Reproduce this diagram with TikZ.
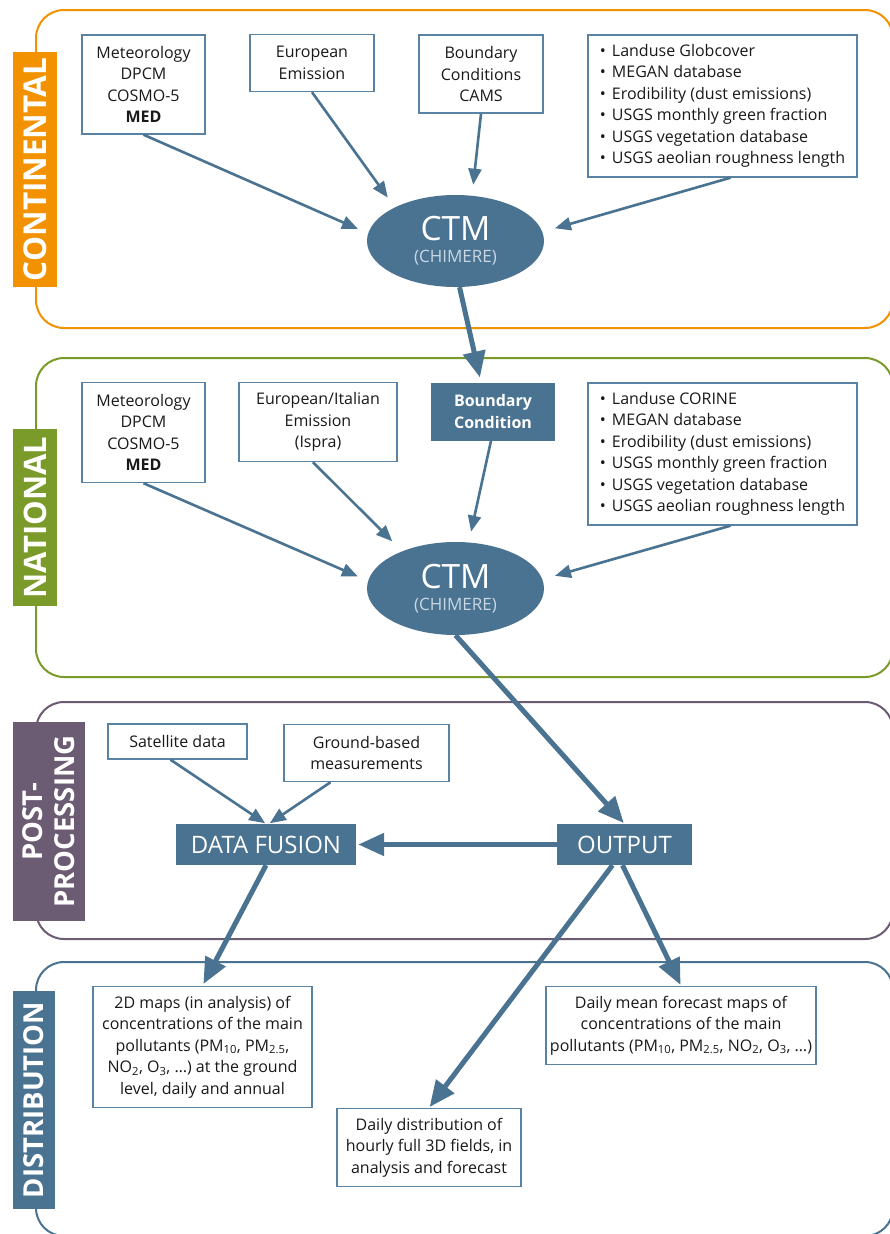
\documentclass[tikz,border=0pt]{standalone}
\usepackage{fontspec}
\setmainfont{Open Sans}
\usetikzlibrary{shapes.geometric,arrows.meta}
\definecolor{cmblue}{RGB}{74,114,145}
\definecolor{cmline}{RGB}{90,130,162}
\definecolor{cmorange}{RGB}{243,146,0}
\definecolor{cmgreen}{RGB}{122,154,42}
\definecolor{cmpurple}{RGB}{107,91,115}
\definecolor{chimere}{RGB}{200,215,228}

\begin{document}
\begin{tikzpicture}[x=1pt, y=-1pt, % 1px = 1pt, y軸は下向き
  box/.style={draw=cmline, line width=1.4pt, fill=white, align=center, inner sep=0pt, text=black!90, font=\fontsize{16}{21.5}\selectfont},
  darkbox/.style={fill=cmblue, text=white, align=center, inner sep=0pt},
  ctm/.style={ellipse, fill=cmblue, minimum width=177pt, minimum height=92pt, inner sep=0pt, text=white, align=center, font=\fontsize{33.5}{22}\selectfont},
  frame/.style={line width=2pt, rounded corners=28pt},
  seclabel/.style={rotate=90, text=white, inner sep=0pt, align=center, font=\bfseries\fontsize{31.5}{31}\selectfont},
  arr/.style={draw=cmblue, line width=2.6pt, -{Triangle[length=16pt,width=13pt]}},
  bigarr/.style={draw=cmblue, line width=5pt, -{Triangle[length=26pt,width=22pt]}}]

  \useasboundingbox (0,0) rectangle (890,1234); % 余白込みの大きさ
  \fill[white] (0,0) rectangle (890,1234);

  % 枠
  \draw[frame, cmorange] (36,10) rectangle (893,328);
  \draw[frame, cmgreen] (36,358) rectangle (893,677);
  \draw[frame, cmpurple] (36,702) rectangle (893,939);
  \draw[frame, cmblue] (36,962) rectangle (893,1236);

  % 左の見出し
  \node[seclabel, fill=cmorange, minimum width=235pt, minimum height=44pt] (lbcont) at (35,169.5) {CONTINENTAL};
  \node[seclabel, fill=cmgreen, minimum width=177pt, minimum height=44pt, font=\bfseries\fontsize{31}{31}\selectfont] (lbnat) at (35,517.5) {NATIONAL};
  \node[seclabel, fill=cmpurple, minimum width=199pt, minimum height=72pt, font=\bfseries\fontsize{27.5}{32}\selectfont] (lbpost) at (49,821.5) {POST-\\PROCESSING};
  \node[seclabel, fill=cmblue, minimum width=218pt, minimum height=42pt, font=\bfseries\fontsize{27.5}{25}\selectfont] (lbdist) at (34,1100) {DISTRIBUTION};

  % CONTINENTAL
  \node[box, minimum width=123pt, minimum height=99pt] (met1) at (143.5,84.5) {Meteorology\\DPCM\\COSMO-5\\\textbf{MED}};
  \node[box, minimum width=124pt, minimum height=57pt] (eur1) at (312,63) {European\\Emission};
  \node[box, minimum width=124pt, minimum height=78pt] (bc1) at (481,74) {Boundary\\Conditions\\CAMS};
  \node[box, minimum width=269pt, minimum height=142pt, align=left] (lst1) at (722.5,106) {\textbullet\hspace{6pt}Landuse Globcover\\\textbullet\hspace{6pt}MEGAN database\\\textbullet\hspace{6pt}Erodibility (dust emissions)\\\textbullet\hspace{6pt}USGS monthly green fraction\\\textbullet\hspace{6pt}USGS vegetation database\\\textbullet\hspace{6pt}USGS aeolian roughness length};
  \node[ctm] (ctm1) at (455.5,241) {CTM\\\textcolor{chimere}{\fontsize{17}{17}\selectfont (CHIMERE)}};

  \draw[arr, shorten >=11pt] (met1.south) -- (ctm1.175);
  \draw[arr, shorten >=12pt] (eur1.south) -- (ctm1.151);
  \draw[arr, shorten >=11pt] (bc1.south) -- (ctm1.70);
  \draw[arr, shorten >=13pt] ([xshift=8pt]lst1.south) -- (ctm1.6);

  % NATIONAL
  \node[box, minimum width=123pt, minimum height=100pt] (met2) at (143.5,432.5) {Meteorology\\DPCM\\COSMO-5\\\textbf{MED}};
  \node[box, minimum width=158pt, minimum height=79pt] (eur2) at (318,422) {European/Italian\\Emission\\(Ispra)};
  \node[darkbox, minimum width=124pt, minimum height=58pt, font=\bfseries\fontsize{16}{21.5}\selectfont] (bc2) at (493,411.5) {Boundary\\Condition};
  \node[box, minimum width=269pt, minimum height=142pt, align=left] (lst2) at (722.5,454) {\textbullet\hspace{6pt}Landuse CORINE\\\textbullet\hspace{6pt}MEGAN database\\\textbullet\hspace{6pt}Erodibility (dust emissions)\\\textbullet\hspace{6pt}USGS monthly green fraction\\\textbullet\hspace{6pt}USGS vegetation database\\\textbullet\hspace{6pt}USGS aeolian roughness length};
  \node[ctm, minimum height=93pt] (ctm2) at (455.5,588.5) {CTM\\\textcolor{chimere}{\fontsize{17}{17}\selectfont (CHIMERE)}};

  \draw[bigarr, shorten >=5pt] (ctm1.-85) -- ([xshift=-12pt]bc2.north); % 大陸→国
  \draw[arr, shorten >=11pt] (met2.south) -- (ctm2.175);
  \draw[arr, shorten >=14pt] ([xshift=-5pt]eur2.south) -- (ctm2.145);
  \draw[arr, shorten >=11pt] ([xshift=-2pt]bc2.south) -- (ctm2.74);
  \draw[arr, shorten >=13pt] ([xshift=8pt]lst2.south) -- (ctm2.6);

  % POST-PROCESSING
  \node[box, minimum width=139pt, minimum height=35pt] (sat) at (177.5,741.5) {Satellite data};
  \node[box, minimum width=165pt, minimum height=57pt] (gnd) at (366.5,753) {Ground-based\\measurements};
  \node[darkbox, minimum width=180pt, minimum height=41pt, font=\fontsize{24}{24}\selectfont] (fus) at (266,844.5) {DATA FUSION};
  \node[darkbox, minimum width=135pt, minimum height=41pt, font=\fontsize{24}{24}\selectfont] (out) at (624.5,844.5) {OUTPUT};

  \draw[bigarr, shorten >=1pt] (ctm2.south) -- (out.north);
  \draw[bigarr, shorten >=2pt] (out.west) -- (fus.east);
  \draw[arr, shorten >=1pt] ([xshift=-7pt]sat.south) -- (fus.north);
  \draw[arr, shorten >=1pt] ([xshift=-36pt]gnd.south) -- ([xshift=3pt]fus.north);

  % DISTRIBUTION
  \node[box, minimum width=219pt, minimum height=121pt] (map2d) at (202.5,1047) {2D maps (in analysis) of\\concentrations of the main\\pollutants (PM\textsubscript{10}, PM\textsubscript{2.5},\\NO\textsubscript{2}, O\textsubscript{3}, …) at the ground\\level, daily and annual};
  \node[box, minimum width=184pt, minimum height=78pt] (dist3d) at (429,1147.5) {Daily distribution of\\hourly full 3D fields, in\\analysis and forecast};
  \node[box, minimum width=270pt, minimum height=78pt] (mean) at (681,1025.5) {Daily mean forecast maps of\\concentrations of the main\\pollutants (PM\textsubscript{10}, PM\textsubscript{2.5}, NO\textsubscript{2}, O\textsubscript{3}, …)};

  \draw[bigarr, shorten >=2pt] (fus.south) -- (map2d.north);
  \draw[bigarr, shorten >=1pt] ([xshift=-12pt]out.south) -- (dist3d.north);
  \draw[bigarr, shorten >=1pt] ([xshift=-2pt]out.south) -- (mean.north);

\end{tikzpicture}
\end{document}
